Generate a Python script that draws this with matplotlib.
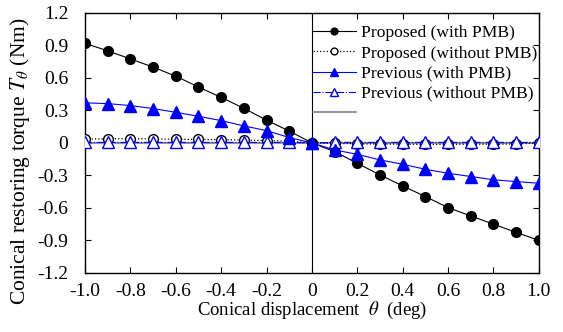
import matplotlib
matplotlib.use('Agg')
import matplotlib.pyplot as plt
import numpy as np

plt.rcParams['font.family'] = ['Liberation Serif', 'DejaVu Serif']
plt.rcParams['mathtext.fontset'] = 'stix'

# Datos
theta = [-1.0, -0.9, -0.8, -0.7, -0.6, -0.5, -0.4, -0.3, -0.2, -0.1, 0.0,
         0.1, 0.2, 0.3, 0.4, 0.5, 0.6, 0.7, 0.8, 0.9, 1.0]
prop_pmb = [0.92, 0.85, 0.776, 0.70, 0.616, 0.517, 0.42, 0.32, 0.21, 0.11, 0.0,
            -0.08, -0.188, -0.295, -0.397, -0.495, -0.597, -0.674, -0.75, -0.825, -0.90]
prop_sin = [0.035, 0.038, 0.04, 0.037, 0.034, 0.032, 0.03, 0.026, 0.022, 0.016, 0.0,
            -0.004, -0.008, -0.01, -0.012, -0.013, -0.013, -0.012, -0.012, -0.01, 0.0]
prev_pmb = [0.37, 0.363, 0.345, 0.317, 0.283, 0.246, 0.206, 0.157, 0.114, 0.05, 0.0,
            -0.065, -0.105, -0.157, -0.197, -0.243, -0.28, -0.31, -0.34, -0.357, -0.372]
prev_sin = [0.005] * 10 + [0.0] + [0.005] * 10

xticks = [-1.0, -0.8, -0.6, -0.4, -0.2, 0.0, 0.2, 0.4, 0.6, 0.8, 1.0]
xlabels = ['-1.0', '-0.8', '-0.6', '-0.4', '-0.2', '0', '0.2', '0.4', '0.6', '0.8', '1.0']
yticks = [-1.2, -0.9, -0.6, -0.3, 0.0, 0.3, 0.6, 0.9, 1.2]
ylabels = ['-1.2', '-0.9', '-0.6', '-0.3', '0', '0.3', '0.6', '0.9', '1.2']

fig = plt.figure(figsize=(5.63, 3.32), dpi=100)
ax = fig.add_axes([0.151, 0.178, 0.806, 0.783])

ax.axvline(0, color='black', lw=0.8, zorder=1)
ax.plot(theta, prop_pmb, '-o', color='black', lw=0.8, ms=7, label='Proposed (with PMB)', zorder=4)
ax.plot(theta, prop_sin, ':o', color='black', lw=0.9, ms=7, mfc='white', label='Proposed (without PMB)', zorder=3)
ax.plot(theta, prev_pmb, '-^', color='blue', lw=0.8, ms=8, label='Previous (with PMB)', zorder=4)
ax.plot(theta, prev_sin, '-.^', color='blue', lw=0.8, ms=8, mfc='white', label='Previous (without PMB)', zorder=3)
ax.axhline(0, color='gray', lw=1.2, zorder=2, label=' ')

ax.set_xlim(-1.0, 1.0)
ax.set_ylim(-1.2, 1.2)
ax.set_xticks(xticks)
ax.set_xticklabels(xlabels)
ax.set_yticks(yticks)
ax.set_yticklabels(ylabels)
ax.tick_params(direction='in', top=True, right=True, labelsize=14, length=4)
ax.tick_params(axis='x', pad=7)
ax.tick_params(axis='y', pad=12)
for s in ax.spines.values():
    s.set_linewidth(1.0)

ax.set_xlabel(r'Conical displacement  $\theta$  (deg)', fontsize=13.5, labelpad=0)
ax.set_ylabel(r'Conical restoring torque $T_\theta$ (Nm)', fontsize=15.5)
ax.yaxis.set_label_coords(-0.117, 0.43)

ax.legend(loc='upper left', bbox_to_anchor=(0.475, 1.0), frameon=False, fontsize=12.6,
          handlelength=2.45, handletextpad=0.3, labelspacing=0.22, borderpad=0.25,
          borderaxespad=0.45, markerscale=0.7)

fig.savefig('out.png', dpi=100)
